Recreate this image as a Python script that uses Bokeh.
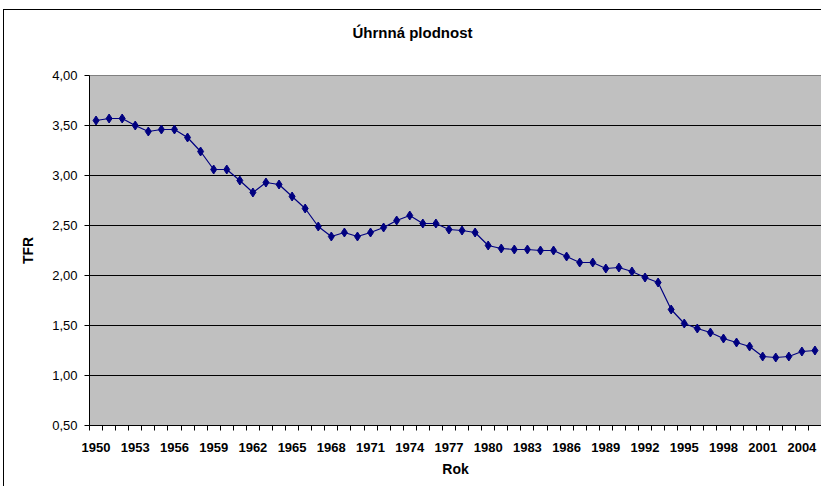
from bokeh.plotting import figure
from bokeh.models import FixedTicker, CustomJSTickFormatter, ColumnDataSource, LinearAxis
from bokeh.embed import file_html
from bokeh.resources import INLINE

years = list(range(1950, 2006))
tfr = [3.55, 3.57, 3.57, 3.50, 3.44, 3.46, 3.46, 3.38, 3.24, 3.06,
       3.06, 2.95, 2.83, 2.93, 2.91, 2.79, 2.67, 2.49, 2.39, 2.43,
       2.39, 2.43, 2.48, 2.55, 2.60, 2.52, 2.52, 2.46, 2.45, 2.43,
       2.30, 2.27, 2.26, 2.26, 2.25, 2.25, 2.19, 2.13, 2.13, 2.07,
       2.08, 2.04, 1.98, 1.93, 1.66, 1.52, 1.47, 1.43, 1.37, 1.33,
       1.29, 1.19, 1.18, 1.19, 1.24, 1.25]
x_tick_years = [1950, 1953, 1956, 1959, 1962, 1965, 1968, 1971, 1974, 1977,
                1980, 1983, 1986, 1989, 1992, 1995, 1998, 2001, 2004]
y_ticks = [0.5, 1.0, 1.5, 2.0, 2.5, 3.0, 3.5, 4.0]
title_text = "Úhrnná plodnost"
x_title = "Rok"
y_title = "TFR"

FONT = "Liberation Sans"

# figure placed at (3, 9) with a 1px left/top border -> content starts at (4, 10)
p = figure(width=818, height=477, output_backend="svg", toolbar_location=None,
           x_range=(years[0] - 0.5, years[-1] + 0.5), y_range=(y_ticks[0], y_ticks[-1]),
           min_border_left=85, min_border_right=1, min_border_top=65, min_border_bottom=62)

p.styles = {"margin-left": "3px", "margin-top": "9px",
            "border-left": "1px solid #000000", "border-top": "1px solid #000000"}

p.background_fill_color = "#C0C0C0"
p.border_fill_color = "white"
p.outline_line_color = "#808080"
p.outline_line_width = 1

# invisible spacer axis above the frame, pushes the title upwards
spacer = LinearAxis(ticker=FixedTicker(ticks=[]), axis_line_color=None,
                    major_tick_line_color=None, minor_tick_line_color=None,
                    major_tick_out=0, major_tick_in=0, minor_tick_out=0, minor_tick_in=0,
                    major_label_standoff=0, axis_label="x", axis_label_text_alpha=0,
                    axis_label_text_font_size="10px", axis_label_standoff=21)
p.add_layout(spacer, "above")

# title
p.title.text = title_text
p.title.text_font = FONT
p.title.text_font_size = "15px"
p.title.text_font_style = "bold"
p.title.text_color = "black"
p.title.align = "left"
p.title.offset = 263
p.title.standoff = 0

src = ColumnDataSource(dict(x=years, y=tfr))
p.line("x", "y", source=src, line_color="#000080", line_width=1.2)
p.scatter("x", "y", source=src, marker="diamond", size=9, fill_color="#000080",
          line_color="#000080")

# x axis
xa = p.below[0]
xa.ticker = FixedTicker(ticks=x_tick_years,
                        minor_ticks=[y - 0.5 for y in years] + [years[-1] + 0.5])
xa.major_tick_out = 0
xa.major_tick_in = 0
xa.minor_tick_out = 5
xa.minor_tick_in = 0
xa.minor_tick_line_color = "black"
xa.axis_line_color = "black"
xa.major_label_text_font = FONT
xa.major_label_text_font_size = "13px"
xa.major_label_text_font_style = "bold"
xa.major_label_text_color = "black"
xa.major_label_standoff = 12
xa.axis_label = x_title
xa.axis_label_text_font = FONT
xa.axis_label_text_font_size = "14px"
xa.axis_label_text_font_style = "bold"
xa.axis_label_text_color = "black"
xa.axis_label_standoff = 6

# y axis
ya = p.yaxis[0]
ya.ticker = FixedTicker(ticks=y_ticks)
ya.formatter = CustomJSTickFormatter(code="return tick.toFixed(2).replace('.', ',');")
ya.major_tick_out = 5
ya.major_tick_in = 0
ya.minor_tick_out = 0
ya.minor_tick_in = 0
ya.axis_line_color = "black"
ya.major_tick_line_color = "black"
ya.major_label_text_font = FONT
ya.major_label_text_font_size = "13px"
ya.major_label_text_color = "black"
ya.major_label_standoff = 7
ya.axis_label = y_title
ya.axis_label_text_font = FONT
ya.axis_label_text_font_size = "14px"
ya.axis_label_text_font_style = "bold"
ya.axis_label_text_color = "black"
ya.axis_label_standoff = 13

p.xgrid.visible = False
p.ygrid.ticker = FixedTicker(ticks=y_ticks[1:-1])
p.ygrid.grid_line_color = "black"
p.ygrid.grid_line_width = 1

open("out.html", "w").write(file_html(p, INLINE))
